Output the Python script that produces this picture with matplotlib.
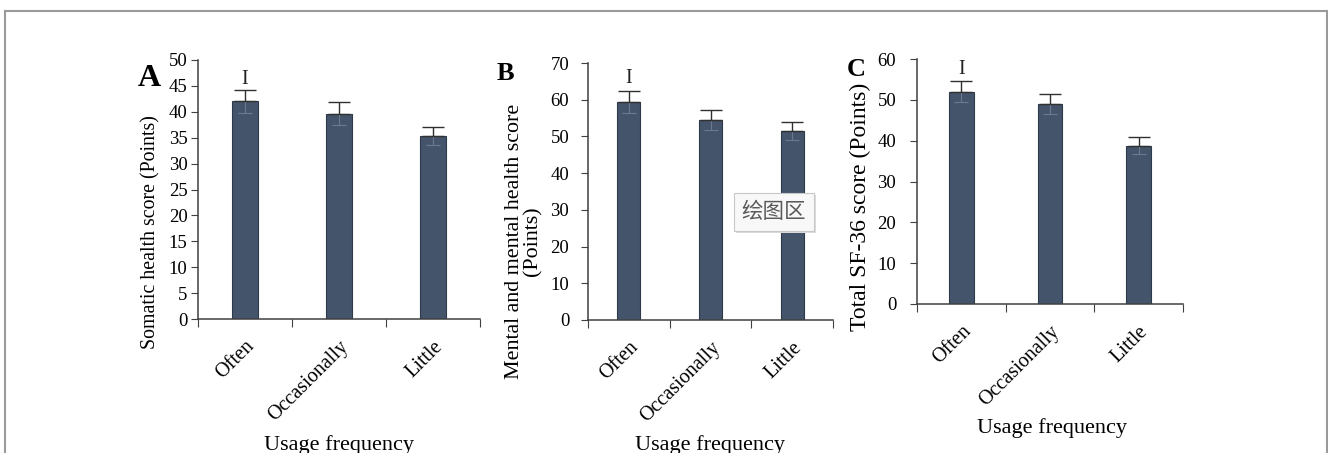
import matplotlib
matplotlib.use("Agg")
import matplotlib.pyplot as plt
from matplotlib.lines import Line2D

plt.rcParams['font.family'] = ['Liberation Serif', 'DejaVu Serif']

# data
categories = ["Often", "Occasionally", "Little"]
somatic = [42.0, 39.6, 35.3]
somatic_err = [2.2, 2.2, 1.7]
mental = [59.5, 54.5, 51.5]
mental_err = [3.0, 2.8, 2.5]
total = [52.0, 49.0, 38.8]
total_err = [2.5, 2.5, 2.0]

panel_letters = ["A", "B", "C"]
y_labels = ["Somatic health score (Points)",
            "Mental and mental health score\n(Points)",
            "Total SF-36 score (Points)"]
y_max = [50, 70, 60]
y_step = [5, 10, 10]
mark_y = [46.3, 65.8, 57.5]   # the "I" drawn above the first bar

W, H = 1328, 453
bar_color = "#44546a"
edge_color = "#2e3a4a"
axis_color = "#404040"

fig = plt.figure(figsize=(W / 100, H / 100), dpi=100)


def px(x, y):
    return x / W, 1 - y / H


# axes boxes in pixels: left, top, right, bottom
boxes = [(198, 60, 480, 319), (588, 63, 833, 320), (917, 59, 1183, 304)]
values = [somatic, mental, total]
errors = [somatic_err, mental_err, total_err]
ytick_pad = [2.5, 8.5, 10]

for i, (l, t, r, b) in enumerate(boxes):
    ax = fig.add_axes([l / W, 1 - b / H, (r - l) / W, (b - t) / H])
    xs = list(range(len(categories)))
    ax.bar(xs, values[i], width=0.28, color=bar_color, edgecolor=edge_color,
           linewidth=0.8, zorder=2)
    # faint lower part of the error bar inside the bar
    ax.errorbar(xs, values[i], yerr=[errors[i], [0] * 3], fmt="none",
                ecolor="#6b7a90", elinewidth=0.8, capsize=5, capthick=0.8, zorder=3)
    ax.errorbar(xs, values[i], yerr=[[0] * 3, errors[i]], fmt="none",
                ecolor="#303030", elinewidth=1.0, capsize=8, capthick=1.0, zorder=3)
    ax.text(0, mark_y[i], "I", ha="center", va="center", fontsize=14.5,
            color="#222222")

    ax.set_xlim(-0.5, 2.5)
    ax.set_ylim(0, y_max[i])
    ax.set_yticks(range(0, y_max[i] + 1, y_step[i]))
    ax.set_xticks([-0.5, 0.5, 1.5, 2.5])
    ax.set_xticklabels([])
    ax.set_xticks(xs, minor=True)
    ax.set_xticklabels(categories, minor=True, rotation=45, ha="right",
                       rotation_mode="anchor", fontsize=14.5)
    ax.tick_params(axis="x", which="minor", length=0, pad=13)
    ax.tick_params(axis="x", which="major", length=6, direction="out",
                   color=axis_color)
    ax.tick_params(axis="y", length=5, direction="out", color=axis_color,
                   labelsize=13.5, pad=ytick_pad[i])
    for s in ["top", "right"]:
        ax.spines[s].set_visible(False)
    for s in ["left", "bottom"]:
        ax.spines[s].set_color(axis_color)
        ax.spines[s].set_linewidth(1.1)

# y labels
fig.text(*px(151, 232), y_labels[0], rotation=90, ha="center", va="center",
         fontsize=14.3)
fig.text(*px(524, 241), y_labels[1], rotation=90, ha="center", va="center",
         fontsize=15.8, multialignment="center", linespacing=0.95)
fig.text(*px(860, 207), y_labels[2], rotation=90, ha="center", va="center",
         fontsize=17)

# x labels
fig.text(*px(339, 445), "Usage frequency", ha="center", va="center", fontsize=16)
fig.text(*px(710, 445), "Usage frequency", ha="center", va="center", fontsize=16)
fig.text(*px(1052, 428), "Usage frequency", ha="center", va="center", fontsize=16)

# panel letters
fig.text(*px(149, 79), "A", ha="center", va="center", fontsize=23, fontweight="bold")
fig.text(*px(505, 74), "B", ha="center", va="center", fontsize=19, fontweight="bold")
fig.text(*px(856, 69), "C", ha="center", va="center", fontsize=19, fontweight="bold")

# the tooltip left in the screenshot, with a soft shadow
tip_font = ["Noto Sans CJK SC", "DejaVu Sans"]
fig.text(*px(776, 214), "绘图区", ha="center", va="center", fontsize=15.5,
         color="#d8d8d8", family=tip_font,
         bbox=dict(boxstyle="square,pad=0.38", facecolor="#dcdcdc",
                   edgecolor="none"))
fig.text(*px(774, 212), "绘图区", ha="center", va="center", fontsize=15.5,
         color="#5a5a5a", family=tip_font,
         bbox=dict(boxstyle="square,pad=0.38", facecolor="#f8f8f8",
                   edgecolor="#c8c8c8", linewidth=0.8))

# thin grey frame round the figure (bottom edge is cut off)
frame = dict(color="#9a9a9a", linewidth=1.5, transform=fig.transFigure)
fig.add_artist(Line2D([4.5 / W, 4.5 / W], [0, 1 - 10.5 / H], **frame))
fig.add_artist(Line2D([4.5 / W, 1326.5 / W], [1 - 10.5 / H, 1 - 10.5 / H], **frame))
fig.add_artist(Line2D([1326.5 / W, 1326.5 / W], [0, 1 - 10.5 / H], **frame))

fig.savefig("out.png", dpi=100, facecolor="white")
